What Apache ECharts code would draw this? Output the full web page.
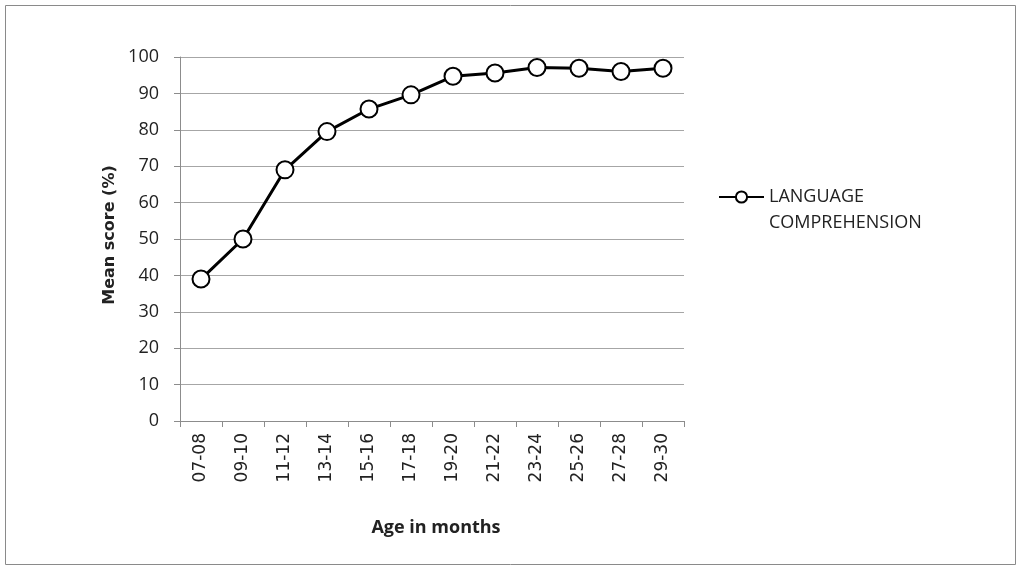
<!DOCTYPE html>
<html>
<head>
<meta charset="utf-8">
<script src="https://cdn.jsdelivr.net/npm/echarts@6/dist/echarts.min.js"></script>
<style>
  html, body { margin: 0; padding: 0; background: #fff; }
  #chart { width: 1022px; height: 571px; }
</style>
</head>
<body>
<div id="chart"></div>
<script>
// 年龄段（月）
var ageGroups = ["07-08", "09-10", "11-12", "13-14", "15-16", "17-18", "19-20", "21-22", "23-24", "25-26", "27-28", "29-30"];
// 平均得分
var comprehension = [39, 50, 69, 79.5, 85.7, 89.6, 94.7, 95.6, 97.1, 96.9, 96, 96.9];
var yTicks = [0, 10, 20, 30, 40, 50, 60, 70, 80, 90, 100];
var seriesName = "LANGUAGE COMPREHENSION";

var myChart = echarts.init(document.getElementById("chart"));
var font = "'Open Sans', sans-serif";
var fontWide = "'DejaVu Sans', sans-serif";

var option = {
    backgroundColor: "#fff",
    animation: false,
    graphic: [
        {
            type: "rect",
            shape: { x: 5.5, y: 5.5, width: 1010, height: 559 },
            style: { fill: "none", stroke: "#8a8a8a", lineWidth: 1 }
        }
    ],
    grid: { left: 180, right: 338, top: 57, bottom: 150 },
    legend: {
        data: [seriesName],
        left: 718,
        top: 158,
        padding: 0,
        itemWidth: 45,
        itemHeight: 14,
        formatter: function () { return "\nLANGUAGE\nCOMPREHENSION"; },
        textStyle: { fontFamily: font, fontSize: 18, color: "#222", lineHeight: 26 }
    },
    xAxis: {
        type: "category",
        data: ageGroups,
        boundaryGap: true,
        name: "Age in months",
        nameLocation: "middle",
        nameGap: 98,
        nameTextStyle: { fontFamily: font, fontSize: 18, fontWeight: "bold", color: "#222", padding: [0, 0, 0, 8] },
        axisLine: { lineStyle: { color: "#8c8c8c", width: 1 } },
        axisTick: { show: true, length: 6, alignWithLabel: false, lineStyle: { color: "#8c8c8c" } },
        axisLabel: { rotate: 90, fontFamily: fontWide, fontSize: 17, color: "#222", margin: 12 }
    },
    yAxis: {
        type: "value",
        min: 0,
        max: 100,
        interval: 10,
        name: "Mean score (%)",
        nameLocation: "middle",
        nameGap: 62,
        nameRotate: 90,
        nameTextStyle: { fontFamily: fontWide, fontSize: 16, fontWeight: "bold", color: "#222", padding: [0, 0, 0, 8] },
        axisLine: { show: true, lineStyle: { color: "#8c8c8c", width: 1 } },
        axisTick: { show: true, length: 6, inside: false, lineStyle: { color: "#8c8c8c" } },
        axisLabel: {
            fontFamily: font, fontSize: 18, color: "#222", margin: 21,
            formatter: function (v) { return yTicks.indexOf(v) >= 0 ? String(v) : ""; }
        },
        splitLine: { show: true, lineStyle: { color: "#a6a6a6", width: 1 } }
    },
    series: [
        {
            name: seriesName,
            type: "line",
            data: comprehension,
            symbol: "circle",
            symbolSize: 17,
            lineStyle: { color: "#000", width: 3 },
            itemStyle: { color: "#fff", borderColor: "#000", borderWidth: 2 }
        }
    ]
};

myChart.setOption(option);
</script>
</body>
</html>
